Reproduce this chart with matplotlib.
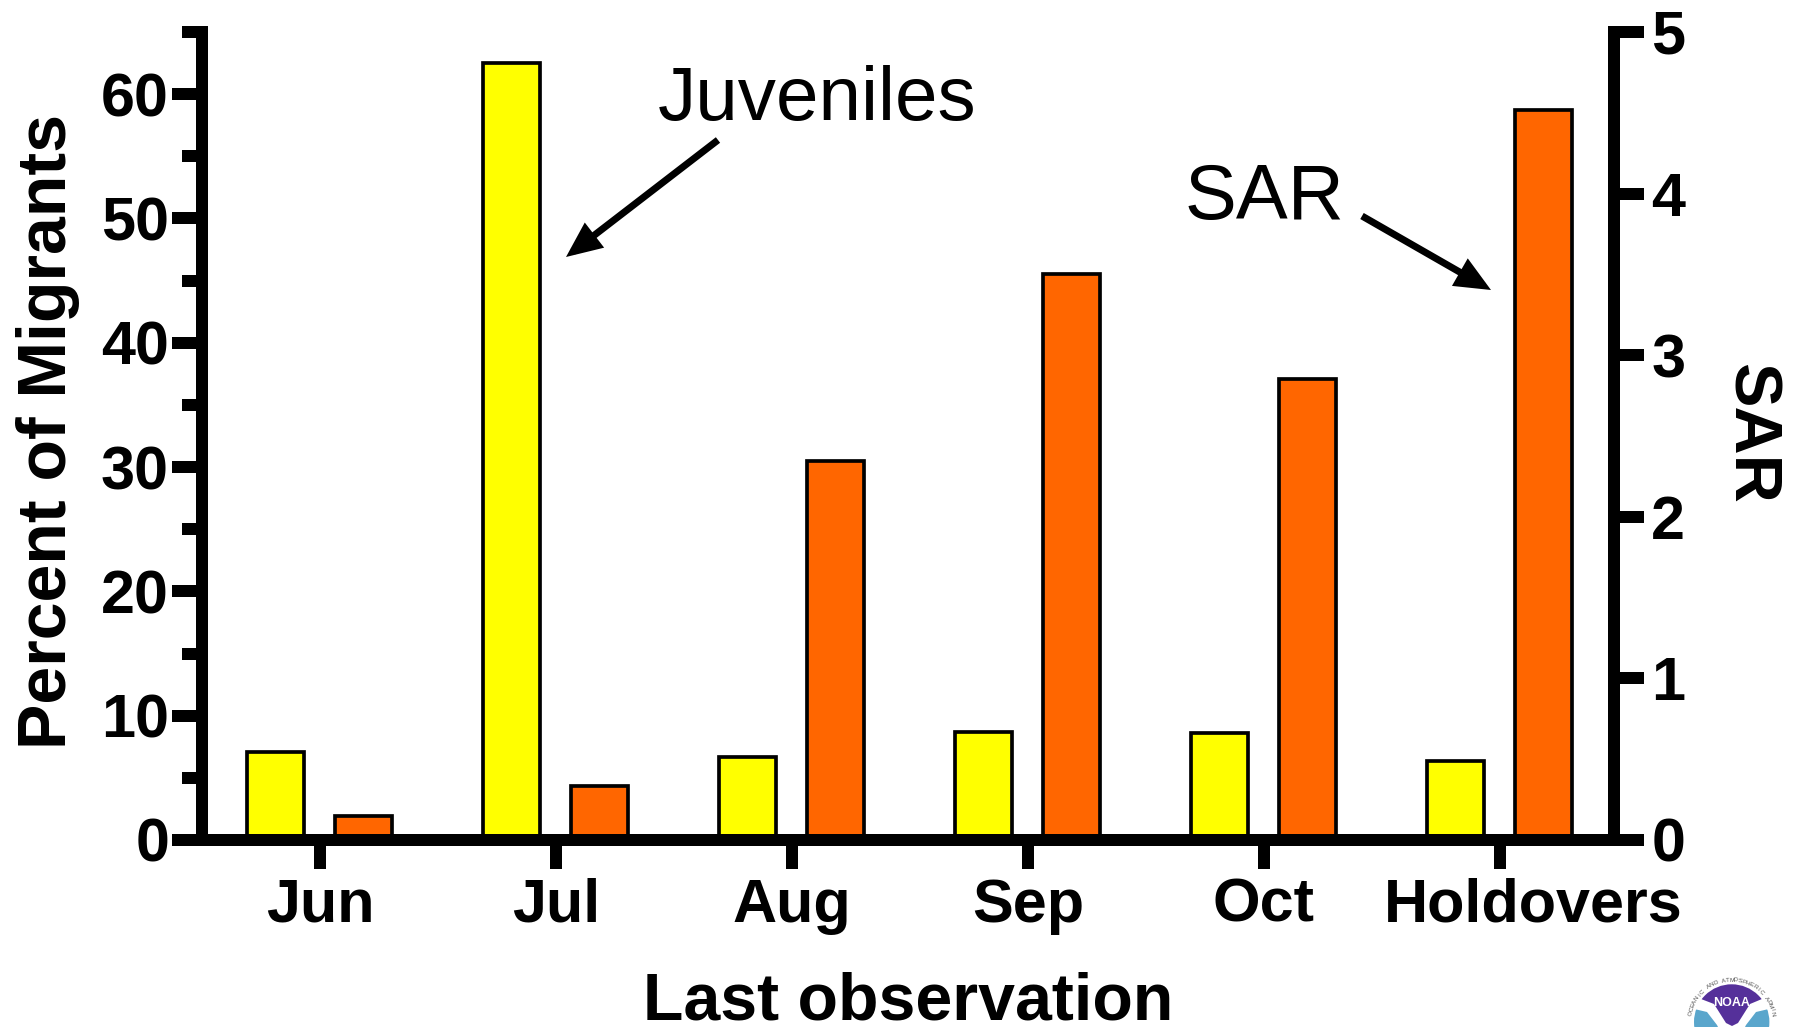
import numpy as np
import matplotlib
matplotlib.use("Agg")
import matplotlib.pyplot as plt
from matplotlib.patches import Circle, Polygon
from matplotlib.transforms import ScaledTranslation

categories = ["Jun", "Jul", "Aug", "Sep", "Oct", "Holdovers"]
juveniles = [7.1, 62.5, 6.7, 8.65, 8.6, 6.35]
sar = [0.147, 0.335, 2.345, 3.5, 2.85, 4.52]
left_major = [0, 10, 20, 30, 40, 50, 60]
left_minor = [5, 15, 25, 35, 45, 55, 65]
right_major = [0, 1, 2, 3, 4, 5]

W, H = 1801, 1027
DPI = 100
px = 72 / DPI
plt.rcParams["font.family"] = ["Liberation Sans", "DejaVu Sans"]

L, R, T, B = 202, 1613.7, 32, 840
fig = plt.figure(figsize=(W / DPI, H / DPI), dpi=DPI, facecolor="white")
ax = fig.add_axes([L / W, (H - B) / H, (R - L) / W, (B - T) / H])
ax2 = ax.twinx()
ax.set_zorder(2)
ax2.set_zorder(1)
ax.patch.set_visible(False)

x = np.arange(len(categories))
offset = 44 / 236
bw = 57 / 236
ax.bar(x - offset, juveniles, bw, color="#FFFF00", edgecolor="black", linewidth=3.7 * px)
ax2.bar(x + offset, sar, bw, color="#FF6600", edgecolor="black", linewidth=3.7 * px)

ax.set_xlim(-0.5, 5.4818)
ax.set_ylim(0, 65)
ax2.set_ylim(0, 5)

lw = 12 * px
for s in ("top", "right"):
    ax.spines[s].set_visible(False)
for s in ("top", "left"):
    ax2.spines[s].set_visible(False)
for a in (ax, ax2):
    for s in a.spines.values():
        s.set_linewidth(lw)

FS = 44
ax.set_yticks(left_major)
ax.set_yticks(left_minor, minor=True)
ax.tick_params(axis="y", which="major", length=30 * px, width=lw, pad=3 * px, labelsize=FS)
ax.tick_params(axis="y", which="minor", length=20 * px, width=lw)
for t in ax.get_yticklabels():
    t.set_fontweight("bold")
ax.set_xticks(x)
ax.set_xticklabels(categories, fontweight="bold", fontsize=FS)
ax.tick_params(axis="x", length=29 * px, width=lw, pad=9 * px)
lab = ax.get_xticklabels()[-1]
lab.set_transform(lab.get_transform() + ScaledTranslation(33 / DPI, 0, fig.dpi_scale_trans))

ax2.set_yticks(right_major)
ax2.tick_params(axis="y", length=30 * px, width=lw, pad=7.5 * px, labelsize=FS)
for t in ax2.get_yticklabels():
    t.set_fontweight("bold")

ax.set_ylabel("Percent of Migrants", fontsize=49, fontweight="bold", va="baseline")
ax.yaxis.set_label_coords((66 - L) / (R - L), (B - 431.5) / (B - T))
ax2.set_ylabel("SAR", fontsize=48, fontweight="bold", rotation=-90, va="baseline", ha="center",
               rotation_mode="anchor")
ax2.yaxis.set_label_coords((1733 - L) / (R - L), (B - 433) / (B - T))
ax.set_xlabel("Last observation", fontsize=47.7, fontweight="bold", va="baseline")
ax.xaxis.set_label_coords((908 - L) / (R - L), -(1020 - B) / (B - T))

# Overlay in image pixels for callouts and logo
ov = fig.add_axes([0, 0, 1, 1], zorder=5)
ov.set_xlim(0, W)
ov.set_ylim(H, 0)
ov.axis("off")
ov.text(658, 120, "Juveniles", fontsize=55, va="baseline", ha="left")
ov.text(1184.5, 219, "SAR", fontsize=56, va="baseline", ha="left")
arrow = dict(arrowstyle="-|>,head_length=0.95,head_width=0.42", color="black",
             lw=7 * px, shrinkA=0, shrinkB=0, mutation_scale=18, joinstyle="miter", capstyle="butt")
ov.annotate("", xy=(566, 257), xytext=(718, 140), arrowprops=arrow)
ov.annotate("", xy=(1491, 290), xytext=(1362, 216), arrowprops=arrow)

# NOAA emblem, cut off by the bottom edge
cx, cy, r_in = 1731.7, 1022, 37.7
disc = Circle((cx, cy), r_in, transform=ov.transData)
purple = Polygon([(1701, 999), (1714, 1004), (1726, 1023), (1732, 1026), (1738, 1023), (1750, 1004),
                  (1762, 999), (1762, 960), (1701, 960)], fc="#55309A", ec="none", zorder=2)
ov.add_patch(purple)
purple.set_clip_path(disc)
for pts in ([(1690, 1008), (1707, 1012), (1717, 1025), (1722, 1035), (1690, 1035)],
            [(1773, 1008), (1756, 1012), (1746, 1025), (1741, 1035), (1773, 1035)]):
    blue = Polygon(pts, fc="#5AA6CC", ec="none", zorder=2)
    ov.add_patch(blue)
    blue.set_clip_path(disc)
ov.text(cx, 1003, "NOAA", color="white", fontsize=9, fontweight="bold", ha="center", va="center", zorder=3)
ring = "NATIONAL OCEANIC AND ATMOSPHERIC ADMINISTRATION"
for i, ch in enumerate(ring):
    a = np.deg2rad(-90 + (i - (len(ring) - 1) / 2) * 5.6)
    y = cy + 42 * np.sin(a)
    if y < 1016:
        ov.text(cx + 42 * np.cos(a), y, ch, fontsize=4.6, color="#555555",
                rotation=-np.rad2deg(a) - 90, ha="center", va="center", rotation_mode="anchor")

fig.savefig("out.png", dpi=DPI, facecolor="white")
